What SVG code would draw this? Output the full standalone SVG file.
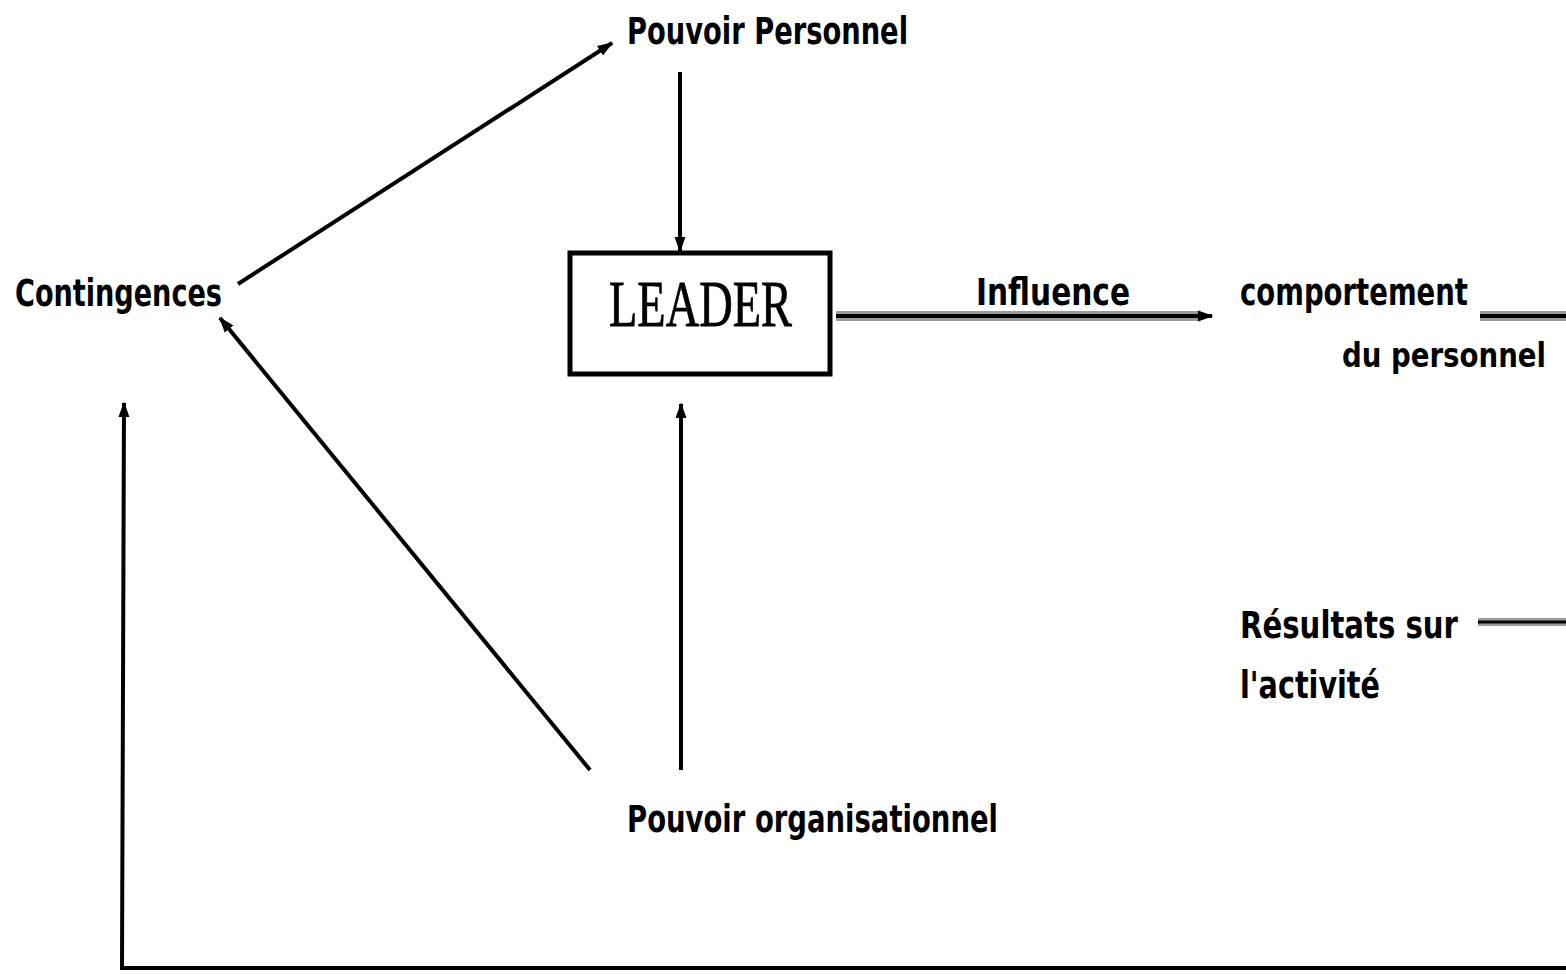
<svg xmlns="http://www.w3.org/2000/svg" width="1566" height="974" viewBox="0 0 1566 974">
<defs>
<style>
.t{font-family:"DejaVu Sans Condensed","DejaVu Sans",sans-serif;font-weight:bold;font-size:37px;fill:#000}
.c{fill:none;stroke:#000;stroke-width:4}
</style>
<marker id="ah" viewBox="0 0 10 10" refX="9" refY="5" markerWidth="4" markerHeight="4" orient="auto" markerUnits="strokeWidth">
<path d="M0,1.5 L10,5 L0,8.5 z" fill="#000"/>
</marker>
</defs>
<rect width="1566" height="974" fill="#fff"/>
<g id="connectors">
<line class="c" x1="238" y1="284" x2="612" y2="43" marker-end="url(#ah)"/>
<line class="c" x1="680" y1="72" x2="680" y2="251" stroke-width="3.5" marker-end="url(#ah)"/>
<line x1="836" y1="316" x2="1198" y2="316" stroke="#999" stroke-width="10"/>
<line x1="836" y1="316" x2="1212" y2="316" stroke="#000" stroke-width="4" marker-end="url(#ah)"/>
<line x1="1480" y1="316" x2="1566" y2="316" stroke="#999" stroke-width="10"/>
<line x1="1480" y1="316" x2="1566" y2="316" stroke="#000" stroke-width="4"/>
<line x1="1478" y1="622" x2="1566" y2="622" stroke="#999" stroke-width="8"/>
<line x1="1478" y1="622" x2="1566" y2="622" stroke="#000" stroke-width="3"/>
<line class="c" x1="590" y1="770" x2="220" y2="318" marker-end="url(#ah)"/>
<line class="c" x1="681" y1="770" x2="681" y2="404" stroke-width="3.5" marker-end="url(#ah)"/>
<polyline class="c" points="1566,968 122,968 124,403" stroke-width="4" marker-end="url(#ah)"/>
</g>
<g id="pouvoir-personnel"><text class="t" x="627" y="44" textLength="281" lengthAdjust="spacingAndGlyphs">Pouvoir Personnel</text></g>
<g id="contingences"><text class="t" x="15" y="306" textLength="207" lengthAdjust="spacingAndGlyphs">Contingences</text></g>
<g id="leader">
<rect x="570" y="253" width="260" height="121" fill="#fff" stroke="#000" stroke-width="5"/>
<text x="609" y="326" font-family="'Liberation Serif',serif" font-size="65" stroke="#000" stroke-width="0.8" textLength="183" lengthAdjust="spacingAndGlyphs">LEADER</text>
</g>
<g id="influence"><text class="t" x="976" y="305" textLength="154" lengthAdjust="spacingAndGlyphs">Influence</text></g>
<g id="comportement">
<text class="t" x="1240" y="305" textLength="228" lengthAdjust="spacingAndGlyphs">comportement</text>
<text class="t" x="1342" y="367" style="font-size:34px" textLength="204" lengthAdjust="spacingAndGlyphs">du personnel</text>
</g>
<g id="resultats">
<text class="t" x="1240" y="638" textLength="218" lengthAdjust="spacingAndGlyphs">Résultats sur</text>
<text class="t" x="1240" y="698" textLength="140" lengthAdjust="spacingAndGlyphs">l'activité</text>
</g>
<g id="pouvoir-organisationnel"><text class="t" x="627" y="832" textLength="371" lengthAdjust="spacingAndGlyphs">Pouvoir organisationnel</text></g>
</svg>
